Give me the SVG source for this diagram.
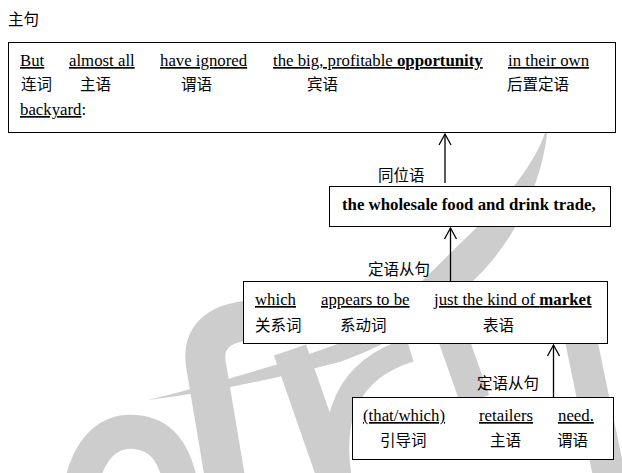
<svg xmlns="http://www.w3.org/2000/svg" width="622" height="473" viewBox="0 0 622 473">
<defs>
<style>
.wm{fill:none;stroke:#cdcdcd;stroke-linecap:butt}
.box{fill:#fff;stroke:#000;stroke-width:1}
.en{font-family:"Liberation Serif","Times New Roman",serif;font-size:16.8px;fill:#000}
.u{text-decoration:underline}
.b{font-weight:bold}
.zh{font-family:"Noto Sans CJK SC","Noto Sans CJK TC",sans-serif;font-size:15.5px;fill:#000}
.conn{stroke:#000;stroke-width:1.3;fill:none}
</style>
<marker id="arr" viewBox="-13 -8 15 16" markerWidth="15" markerHeight="16" refX="0" refY="0" orient="auto" markerUnits="userSpaceOnUse">
<path d="M-11,-6 L0,0 L-11,6" fill="none" stroke="#000" stroke-width="1.3"/>
</marker>
</defs>
<rect width="622" height="473" fill="#fff"/>
<g id="watermark">
<path d="M148,400 C230,390 300,372 340,362 C400,340 445,310 477,277 C515,240 545,180 548,122 C540,160 505,200 467,237 C430,272 390,318 340,343 C290,362 220,382 148,400 Z" fill="#cdcdcd"/>
<path class="wm" d="M80,490 C90,440 115,430 135,432 C160,434 175,450 182,490" stroke-width="34"/>
<path class="wm" d="M227,490 L206,365 C202,340 215,322 255,320" stroke-width="40"/>
<path class="wm" d="M290,350 L337,485" stroke-width="34"/>
<path class="wm" d="M340,480 C330,420 345,370 410,350" stroke-width="24"/>
<path class="wm" d="M452,335 L475,400" stroke-width="30"/>
<path class="wm" d="M580,335 L610,480" stroke-width="32"/>
</g>
<text class="zh" x="8" y="25" font-size="15">主句</text>
<g id="main">
<rect class="box" x="8.5" y="42.5" width="607" height="90"/>
<text class="en" y="66"><tspan class="u" x="20">But</tspan><tspan class="u" x="69">almost all</tspan><tspan class="u" x="160">have ignored</tspan><tspan class="u" x="273">the big, profitable <tspan class="b">opportunity</tspan></tspan><tspan class="u" x="508">in their own</tspan></text>
<text class="zh" y="90"><tspan x="21">连词</tspan><tspan x="80">主语</tspan><tspan x="181">谓语</tspan><tspan x="307">宾语</tspan><tspan x="507">后置定语</tspan></text>
<text class="en" x="20" y="115"><tspan class="u">backyard</tspan>:</text>
</g>
<g id="appositive">
<rect class="box" x="329.5" y="186.5" width="281" height="40"/>
<text class="en b" x="342" y="210">the wholesale food and drink trade,</text>
</g>
<g id="clause1">
<rect class="box" x="243.5" y="281.5" width="364" height="62"/>
<text class="en" y="305"><tspan class="u" x="255">which</tspan><tspan class="u" x="321">appears to be</tspan><tspan class="u" x="434">just the kind of <tspan class="b">market</tspan></tspan></text>
<text class="zh" y="331"><tspan x="255">关系词</tspan><tspan x="340">系动词</tspan><tspan x="483">表语</tspan></text>
</g>
<g id="clause2">
<rect class="box" x="352.5" y="397.5" width="261" height="62"/>
<text class="en" y="421"><tspan class="u" x="363">(that/which)</tspan><tspan class="u" x="479">retailers</tspan><tspan class="u" x="558">need.</tspan></text>
<text class="zh" y="446"><tspan x="380">引导词</tspan><tspan x="490">主语</tspan><tspan x="557">谓语</tspan></text>
</g>
<g id="connectors">
<line class="conn" x1="445" y1="183" x2="445" y2="134" marker-end="url(#arr)"/>
<text class="zh" x="378" y="181">同位语</text>
<line class="conn" x1="450.5" y1="281" x2="450.5" y2="228" marker-end="url(#arr)"/>
<text class="zh" x="368" y="275">定语从句</text>
<line class="conn" x1="553.5" y1="397" x2="553.5" y2="345" marker-end="url(#arr)"/>
<text class="zh" x="477" y="389">定语从句</text>
</g>
</svg>
